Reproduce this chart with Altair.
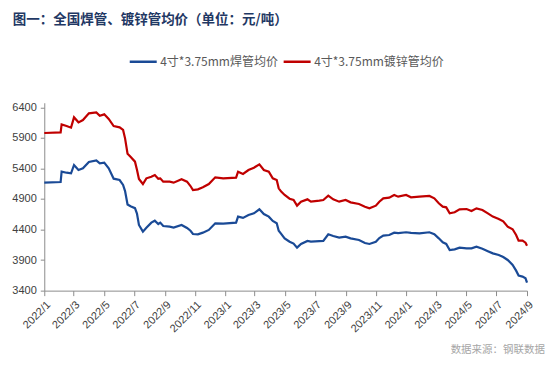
import altair as alt
import pandas as pd

title_text = "图一：全国焊管、镀锌管均价（单位：元/吨）"
source_text = "数据来源：钢联数据"
series_names = ["4寸*3.75mm焊管均价", "4寸*3.75mm镀锌管均价"]
series_colors = ["#1a4a96", "#c00000"]

dates = [
    "2022-01-01", "2022-02-03", "2022-02-05", "2022-02-15", "2022-02-24", "2022-03-02",
    "2022-03-11", "2022-03-20", "2022-04-01", "2022-04-16", "2022-04-23", "2022-05-02",
    "2022-05-11", "2022-05-21", "2022-06-02", "2022-06-09", "2022-06-13", "2022-06-18",
    "2022-06-24", "2022-07-03", "2022-07-07", "2022-07-11", "2022-07-19", "2022-07-26",
    "2022-08-05", "2022-08-12", "2022-08-19", "2022-08-23", "2022-08-29", "2022-09-11",
    "2022-09-19", "2022-10-05", "2022-10-16", "2022-10-23", "2022-10-28", "2022-11-07",
    "2022-11-17", "2022-11-29", "2022-12-12", "2022-12-28", "2023-01-23", "2023-01-27",
    "2023-02-06", "2023-02-17", "2023-02-28", "2023-03-11", "2023-03-20", "2023-03-30",
    "2023-04-07", "2023-04-15", "2023-04-19", "2023-04-24", "2023-05-01", "2023-05-11",
    "2023-05-19", "2023-05-26", "2023-06-03", "2023-06-16", "2023-06-23", "2023-07-10",
    "2023-07-18", "2023-07-28", "2023-08-07", "2023-08-19", "2023-09-01", "2023-09-11",
    "2023-09-28", "2023-10-10", "2023-10-19", "2023-11-01", "2023-11-08", "2023-11-16",
    "2023-11-28", "2023-12-08", "2023-12-16", "2024-01-01", "2024-01-11", "2024-01-28",
    "2024-02-17", "2024-02-27", "2024-03-07", "2024-03-15", "2024-03-22", "2024-03-29",
    "2024-04-08", "2024-04-18", "2024-05-02", "2024-05-12", "2024-05-22", "2024-06-03",
    "2024-06-14", "2024-06-24", "2024-07-06", "2024-07-15", "2024-07-24", "2024-08-03",
    "2024-08-10", "2024-08-15", "2024-08-23", "2024-08-29", "2024-09-01",
]

welded = [
    5167, 5178, 5347, 5330, 5320, 5456, 5374, 5401, 5505, 5532, 5483, 5494,
    5401, 5232, 5210, 5129, 5030, 4810, 4780, 4750, 4660, 4475, 4365, 4430,
    4513, 4545, 4491, 4513, 4458, 4447, 4431, 4475, 4425, 4380, 4327, 4322,
    4349, 4393, 4502, 4496, 4513, 4611, 4590, 4638, 4665, 4731, 4654, 4611,
    4540, 4502, 4380, 4330, 4256, 4200, 4170, 4104, 4164, 4213, 4202, 4210,
    4213, 4322, 4294, 4267, 4284, 4256, 4229, 4180, 4164, 4200, 4260, 4300,
    4311, 4349, 4340, 4355, 4345, 4338, 4355, 4322, 4256, 4190, 4164, 4065,
    4076, 4104, 4093, 4093, 4118, 4085, 4045, 4010, 3984, 3950, 3902, 3820,
    3727, 3646, 3629, 3602, 3531,
]

galvanized = [
    5980, 5990, 6121, 6094, 6067, 6236, 6154, 6192, 6301, 6317, 6263, 6285,
    6210, 6094, 6072, 6029, 5892, 5640, 5590, 5511, 5380, 5227, 5145, 5238,
    5265, 5292, 5232, 5238, 5183, 5183, 5167, 5222, 5183, 5112, 5047, 5058,
    5091, 5145, 5254, 5238, 5249, 5347, 5309, 5374, 5412, 5467, 5374, 5347,
    5238, 5210, 5074, 5020, 4965, 4905, 4883, 4791, 4856, 4894, 4856, 4873,
    4883, 4954, 4894, 4856, 4883, 4845, 4818, 4774, 4747, 4790, 4856, 4911,
    4922, 4965, 4938, 4965, 4927, 4938, 4949, 4911, 4829, 4774, 4763, 4665,
    4682, 4731, 4736, 4703, 4747, 4720, 4665, 4611, 4573, 4535, 4447, 4404,
    4311, 4218, 4218, 4185, 4136,
]

y_ticks = [3400, 3900, 4400, 4900, 5400, 5900, 6400]
x_tick_months = [(2022, m) for m in (1, 3, 5, 7, 9, 11)] + \
                [(2023, m) for m in (1, 3, 5, 7, 9, 11)] + \
                [(2024, m) for m in (1, 3, 5, 7, 9)]

df = pd.concat([
    pd.DataFrame({"date": dates, "value": welded, "series": series_names[0]}),
    pd.DataFrame({"date": dates, "value": galvanized, "series": series_names[1]}),
])

label_color = "#404040"
axis_color = "#8c8c8c"

x_enc = alt.X(
    "date:T",
    scale=alt.Scale(type="utc",
                    domain=[alt.DateTime(year=2022, month=1, date=1, utc=True),
                            alt.DateTime(year=2024, month=9, date=1, utc=True)]),
    axis=alt.Axis(
        title=None, values=[alt.DateTime(year=y, month=m, date=1, utc=True) for y, m in x_tick_months],
        labelExpr="utcFormat(datum.value, '%Y/%-m')", labelAngle=315, labelFontSize=11,
        labelFont="Liberation Sans", labelColor=label_color, domainColor=axis_color,
        tickColor=axis_color, tickSize=5, labelPadding=3, grid=False, labelOverlap=False,
    ),
)
y_enc = alt.Y(
    "value:Q",
    scale=alt.Scale(domain=[3400, 6475], nice=False, zero=False),
    axis=alt.Axis(
        title=None, values=y_ticks, format="d", labelFontSize=11, labelFont="Liberation Sans",
        labelColor=label_color, domainColor=axis_color, tickColor=axis_color,
        tickSize=4, labelPadding=4, grid=False,
    ),
)

lines = alt.Chart(df).mark_line(strokeWidth=2.2, interpolate="linear").encode(
    x=x_enc,
    y=y_enc,
    color=alt.Color(
        "series:N",
        scale=alt.Scale(domain=series_names, range=series_colors),
        sort=series_names,
        legend=alt.Legend(
            title=None, orient="none", direction="horizontal", legendX=84, legendY=-56,
            symbolType="stroke", symbolSize=729, symbolStrokeWidth=2.5,
            labelFont="Noto Sans CJK SC", labelFontSize=12, labelColor="#595959",
            labelOffset=2, columnPadding=0, padding=0,
        ),
    ),
)

title_mark = alt.Chart(pd.DataFrame({"t": [title_text]})).mark_text(
    align="left", baseline="middle", font="Noto Sans CJK SC", fontSize=13.5,
    fontWeight="bold", color="#1f3864"
).encode(x=alt.value(-31.5), y=alt.value(-82.5), text="t:N")

source = alt.Chart(pd.DataFrame({"t": [source_text]})).mark_text(
    align="right", baseline="middle", font="Noto Sans CJK SC", fontSize=10.5, color="#a6a6a6"
).encode(x=alt.value(501), y=alt.value(247), text="t:N")

chart = alt.layer(lines, title_mark, source).properties(
    width=483,
    height=188,
    autosize=alt.AutoSizeParams(type="none"),
    padding={"left": 36.3, "top": 94.7, "right": 20, "bottom": 68},
).configure_view(stroke=None)

chart.save("out.html", embed_options={"renderer": "svg", "actions": False})
